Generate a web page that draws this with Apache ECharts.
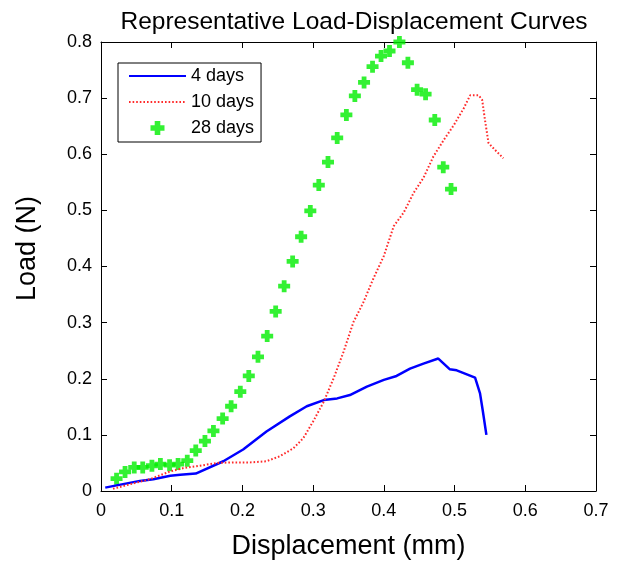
<!DOCTYPE html>
<html>
<head>
<meta charset="utf-8">
<script src="https://cdn.jsdelivr.net/npm/echarts@6/dist/echarts.min.js"></script>
<style>
  html, body { margin: 0; padding: 0; background: #fff; }
  #chart { width: 618px; height: 565px; }
</style>
</head>
<body>
<div id="chart"></div>
<script>
// values, [displacement mm, load N]
const days4 = [
  [0.006, 0.006], [0.022, 0.010], [0.055, 0.018], [0.074, 0.021], [0.098, 0.027],
  [0.112, 0.029], [0.134, 0.031], [0.173, 0.053], [0.201, 0.074], [0.234, 0.106],
  [0.267, 0.133], [0.291, 0.151], [0.315, 0.162], [0.334, 0.165], [0.352, 0.171],
  [0.376, 0.186], [0.400, 0.198], [0.418, 0.205], [0.437, 0.218], [0.456, 0.227],
  [0.477, 0.236], [0.493, 0.217], [0.503, 0.215], [0.529, 0.202], [0.536, 0.174],
  [0.540, 0.142], [0.545, 0.100]
]
const days10 = [
  [0.017, 0.004], [0.041, 0.012], [0.069, 0.021], [0.098, 0.035], [0.117, 0.041],
  [0.140, 0.045], [0.164, 0.050], [0.187, 0.051], [0.211, 0.051], [0.234, 0.053],
  [0.253, 0.062], [0.272, 0.076], [0.286, 0.094], [0.300, 0.124], [0.315, 0.159],
  [0.329, 0.201], [0.343, 0.248], [0.357, 0.301], [0.371, 0.336], [0.385, 0.378],
  [0.400, 0.419], [0.414, 0.472], [0.428, 0.496], [0.442, 0.531], [0.456, 0.558],
  [0.470, 0.596], [0.485, 0.626], [0.499, 0.652], [0.513, 0.682], [0.522, 0.705],
  [0.534, 0.705], [0.539, 0.697], [0.543, 0.661], [0.548, 0.620], [0.557, 0.608],
  [0.569, 0.593]
]
const days28 = [
  [0.022, 0.022], [0.034, 0.034], [0.047, 0.042], [0.059, 0.042], [0.072, 0.045],
  [0.084, 0.048], [0.097, 0.046], [0.109, 0.048], [0.122, 0.054], [0.134, 0.072],
  [0.147, 0.089], [0.159, 0.107], [0.172, 0.129], [0.184, 0.151], [0.197, 0.177],
  [0.209, 0.205], [0.222, 0.239], [0.235, 0.276], [0.247, 0.320], [0.259, 0.365],
  [0.271, 0.409], [0.283, 0.453], [0.296, 0.499], [0.308, 0.545], [0.321, 0.586],
  [0.334, 0.629], [0.347, 0.670], [0.359, 0.704], [0.372, 0.728], [0.384, 0.756],
  [0.396, 0.775], [0.408, 0.784], [0.422, 0.800], [0.434, 0.763], [0.447, 0.715],
  [0.459, 0.707], [0.472, 0.661], [0.484, 0.577], [0.495, 0.538]
]
const seriesNames = ['4 days', '10 days', '28 days']

const font = 'Liberation Sans, Arial, sans-serif'
const plus = 'path://M3,0 H7 V3 H10 V7 H7 V10 H3 V7 H0 V3 H3 Z'

let boxAxis = {
  type: 'value',
  axisLine: { show: true, onZero: false, lineStyle: { color: '#000', width: 1 } },
  axisTick: { show: true, inside: true, length: 6, lineStyle: { color: '#000' } },
  splitLine: { show: false }
}

// line entries: keep the line sample, hide the marker
let noMarker = { opacity: 0, borderWidth: 0 }

let option = {
  animation: false,
  backgroundColor: '#fff',
  title: {
    text: 'Representative Load-Displacement Curves',
    left: 349,
    top: 5,
    textAlign: 'center',
    textStyle: { fontFamily: font, fontSize: 24.5, fontWeight: 'normal', color: '#000' }
  },
  legend: {
    orient: 'vertical',
    left: 118,
    top: 63,
    data: [
      { name: seriesNames[0], itemStyle: noMarker },
      { name: seriesNames[1], itemStyle: noMarker },
      { name: seriesNames[2], icon: plus }
    ],
    itemWidth: 57,
    itemHeight: 14,
    itemGap: 8,
    padding: [4, 7, 5, 10],
    borderColor: '#000',
    borderWidth: 1,
    borderRadius: 0,
    textStyle: { fontFamily: font, fontSize: 18, color: '#000' }
  },
  grid: { left: 101, right: 22, top: 42, bottom: 72 },
  xAxis: [
    Object.assign({}, boxAxis, {
      min: 0, max: 0.7, interval: 0.1,
      name: 'Displacement (mm)',
      nameLocation: 'middle',
      nameGap: 42,
      nameTextStyle: { fontFamily: font, fontSize: 27, color: '#000' },
      axisLabel: { fontFamily: font, fontSize: 18, color: '#000', margin: 11 }
    }),
    Object.assign({}, boxAxis, {
      position: 'top', min: 0, max: 0.7, interval: 0.1,
      axisLabel: { show: false }
    })
  ],
  yAxis: [
    Object.assign({}, boxAxis, {
      min: 0, max: 0.8, interval: 0.1,
      name: 'Load (N)',
      nameLocation: 'middle',
      nameGap: 60,
      nameTextStyle: { fontFamily: font, fontSize: 27, color: '#000', padding: [0, 0, 0, 36] },
      axisLabel: { fontFamily: font, fontSize: 18, color: '#000', margin: 9 }
    }),
    Object.assign({}, boxAxis, {
      position: 'right', min: 0, max: 0.8, interval: 0.1,
      axisLabel: { show: false }
    })
  ],
  series: [
    {
      name: seriesNames[0],
      type: 'line',
      data: days4,
      showSymbol: false,
      itemStyle: { color: '#0000ff' },
      lineStyle: { color: '#0000ff', width: 2.5 }
    },
    {
      name: seriesNames[1],
      type: 'line',
      data: days10,
      showSymbol: false,
      itemStyle: { color: '#ff2a2a' },
      lineStyle: { color: '#ff2a2a', width: 2, type: [1.6, 2] }
    },
    {
      name: seriesNames[2],
      type: 'scatter',
      data: days28,
      symbol: plus,
      symbolSize: 12,
      itemStyle: { color: '#00ee00' }
    }
  ]
}

let chart = echarts.init(document.getElementById('chart'))
chart.setOption(option)
</script>
</body>
</html>
